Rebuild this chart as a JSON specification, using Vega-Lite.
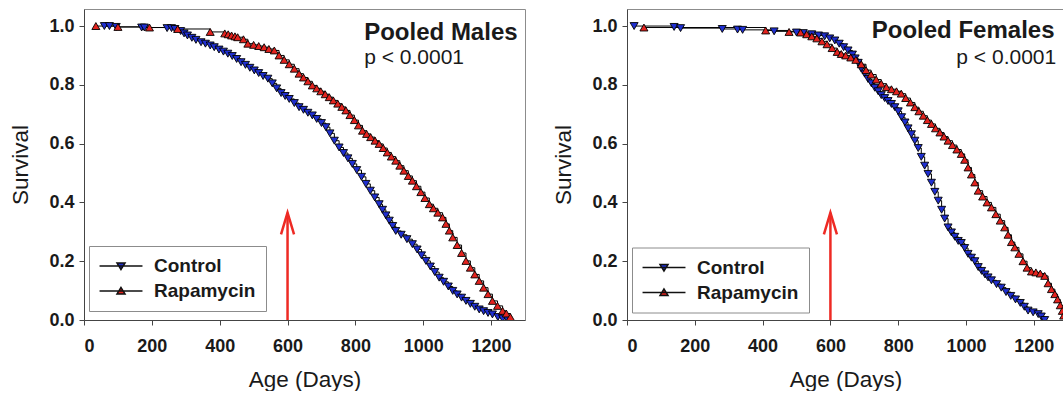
{
  "$schema": "https://vega.github.io/schema/vega-lite/v6.json",
  "background": "white",
  "padding": {"left": 9, "top": 8, "right": 0, "bottom": 0},
  "spacing": 26,
  "config": {
    "font": "Liberation Sans",
    "view": {"stroke": "#8c8c8c", "strokeWidth": 1},
    "axis": {
      "grid": false,
      "domainColor": "#444444",
      "tickColor": "#444444",
      "tickSize": 5,
      "labelFont": "Liberation Sans",
      "labelFontWeight": "bold",
      "labelFontSize": 18,
      "labelColor": "#1a1a1a",
      "titleFont": "Liberation Sans",
      "titleFontWeight": "normal",
      "titleFontSize": 22.5,
      "titleColor": "#1a1a1a"
    },
    "axisX": {"labelPadding": 12, "titlePadding": 13},
    "axisY": {"labelPadding": 5, "titlePadding": 16},
    "legend": {
      "title": null, "orient": "none", "direction": "vertical",
      "padding": 10, "strokeColor": "#8c8c8c", "fillColor": "white", "cornerRadius": 0,
      "labelFont": "Liberation Sans", "labelFontSize": 19, "labelFontWeight": "bold", "labelColor": "#1a1a1a",
      "symbolSize": 324, "symbolStrokeColor": "#111111", "symbolStrokeWidth": 1.5, "labelOffset": 35, "rowPadding": 5
    }
  },
  "datasets": {
    "males": [
      {"group": "Control", "day": 60, "s": 1.0},
      {"group": "Control", "day": 75, "s": 1.0},
      {"group": "Control", "day": 95, "s": 0.997},
      {"group": "Control", "day": 170, "s": 0.995},
      {"group": "Control", "day": 178, "s": 0.995},
      {"group": "Control", "day": 245, "s": 0.993},
      {"group": "Control", "day": 258, "s": 0.993},
      {"group": "Control", "day": 268, "s": 0.99},
      {"group": "Control", "day": 285, "s": 0.983},
      {"group": "Control", "day": 295, "s": 0.975},
      {"group": "Control", "day": 305, "s": 0.968},
      {"group": "Control", "day": 318, "s": 0.96},
      {"group": "Control", "day": 330, "s": 0.953},
      {"group": "Control", "day": 345, "s": 0.945},
      {"group": "Control", "day": 358, "s": 0.94},
      {"group": "Control", "day": 372, "s": 0.934},
      {"group": "Control", "day": 384, "s": 0.928},
      {"group": "Control", "day": 398, "s": 0.92},
      {"group": "Control", "day": 411, "s": 0.913},
      {"group": "Control", "day": 424, "s": 0.906},
      {"group": "Control", "day": 437, "s": 0.898},
      {"group": "Control", "day": 450, "s": 0.888},
      {"group": "Control", "day": 463, "s": 0.877},
      {"group": "Control", "day": 476, "s": 0.868},
      {"group": "Control", "day": 489, "s": 0.858},
      {"group": "Control", "day": 502, "s": 0.849},
      {"group": "Control", "day": 515, "s": 0.84},
      {"group": "Control", "day": 528, "s": 0.83},
      {"group": "Control", "day": 542, "s": 0.821},
      {"group": "Control", "day": 555, "s": 0.805},
      {"group": "Control", "day": 568, "s": 0.788},
      {"group": "Control", "day": 581, "s": 0.772},
      {"group": "Control", "day": 593, "s": 0.762},
      {"group": "Control", "day": 605, "s": 0.752},
      {"group": "Control", "day": 620, "s": 0.738},
      {"group": "Control", "day": 634, "s": 0.724},
      {"group": "Control", "day": 647, "s": 0.715},
      {"group": "Control", "day": 660, "s": 0.705},
      {"group": "Control", "day": 673, "s": 0.696},
      {"group": "Control", "day": 686, "s": 0.684},
      {"group": "Control", "day": 700, "s": 0.67},
      {"group": "Control", "day": 713, "s": 0.656},
      {"group": "Control", "day": 725, "s": 0.635},
      {"group": "Control", "day": 738, "s": 0.61},
      {"group": "Control", "day": 752, "s": 0.587},
      {"group": "Control", "day": 765, "s": 0.568},
      {"group": "Control", "day": 778, "s": 0.55},
      {"group": "Control", "day": 791, "s": 0.531},
      {"group": "Control", "day": 804, "s": 0.51},
      {"group": "Control", "day": 818, "s": 0.487},
      {"group": "Control", "day": 831, "s": 0.463},
      {"group": "Control", "day": 844, "s": 0.44},
      {"group": "Control", "day": 857, "s": 0.417},
      {"group": "Control", "day": 870, "s": 0.394},
      {"group": "Control", "day": 880, "s": 0.375},
      {"group": "Control", "day": 890, "s": 0.356},
      {"group": "Control", "day": 900, "s": 0.338},
      {"group": "Control", "day": 910, "s": 0.32},
      {"group": "Control", "day": 919, "s": 0.303},
      {"group": "Control", "day": 935, "s": 0.29},
      {"group": "Control", "day": 952, "s": 0.275},
      {"group": "Control", "day": 968, "s": 0.258},
      {"group": "Control", "day": 982, "s": 0.24},
      {"group": "Control", "day": 995, "s": 0.22},
      {"group": "Control", "day": 1008, "s": 0.201},
      {"group": "Control", "day": 1021, "s": 0.182},
      {"group": "Control", "day": 1034, "s": 0.163},
      {"group": "Control", "day": 1047, "s": 0.144},
      {"group": "Control", "day": 1060, "s": 0.13},
      {"group": "Control", "day": 1074, "s": 0.114},
      {"group": "Control", "day": 1087, "s": 0.099},
      {"group": "Control", "day": 1100, "s": 0.087},
      {"group": "Control", "day": 1113, "s": 0.076},
      {"group": "Control", "day": 1126, "s": 0.065},
      {"group": "Control", "day": 1139, "s": 0.055},
      {"group": "Control", "day": 1152, "s": 0.045},
      {"group": "Control", "day": 1165, "s": 0.036},
      {"group": "Control", "day": 1178, "s": 0.03},
      {"group": "Control", "day": 1191, "s": 0.024},
      {"group": "Control", "day": 1204, "s": 0.019},
      {"group": "Control", "day": 1220, "s": 0.01},
      {"group": "Control", "day": 1234, "s": 0.005},
      {"group": "Control", "day": 1249, "s": 0.0},
      {"group": "Rapamycin", "day": 35, "s": 1.0},
      {"group": "Rapamycin", "day": 100, "s": 0.997},
      {"group": "Rapamycin", "day": 193, "s": 0.995},
      {"group": "Rapamycin", "day": 276, "s": 0.99},
      {"group": "Rapamycin", "day": 372, "s": 0.98},
      {"group": "Rapamycin", "day": 415, "s": 0.975},
      {"group": "Rapamycin", "day": 425, "s": 0.972},
      {"group": "Rapamycin", "day": 435, "s": 0.968},
      {"group": "Rapamycin", "day": 445, "s": 0.965},
      {"group": "Rapamycin", "day": 453, "s": 0.962},
      {"group": "Rapamycin", "day": 470, "s": 0.955},
      {"group": "Rapamycin", "day": 483, "s": 0.94},
      {"group": "Rapamycin", "day": 500, "s": 0.936},
      {"group": "Rapamycin", "day": 515, "s": 0.932},
      {"group": "Rapamycin", "day": 531, "s": 0.928},
      {"group": "Rapamycin", "day": 545, "s": 0.922},
      {"group": "Rapamycin", "day": 561, "s": 0.917},
      {"group": "Rapamycin", "day": 575, "s": 0.9},
      {"group": "Rapamycin", "day": 590, "s": 0.885},
      {"group": "Rapamycin", "day": 605, "s": 0.87},
      {"group": "Rapamycin", "day": 620, "s": 0.855},
      {"group": "Rapamycin", "day": 634, "s": 0.838},
      {"group": "Rapamycin", "day": 647, "s": 0.825},
      {"group": "Rapamycin", "day": 660, "s": 0.812},
      {"group": "Rapamycin", "day": 673, "s": 0.798},
      {"group": "Rapamycin", "day": 686, "s": 0.788},
      {"group": "Rapamycin", "day": 698, "s": 0.778},
      {"group": "Rapamycin", "day": 711, "s": 0.768},
      {"group": "Rapamycin", "day": 723, "s": 0.758},
      {"group": "Rapamycin", "day": 735, "s": 0.747},
      {"group": "Rapamycin", "day": 748, "s": 0.736},
      {"group": "Rapamycin", "day": 760, "s": 0.725},
      {"group": "Rapamycin", "day": 772, "s": 0.713},
      {"group": "Rapamycin", "day": 784, "s": 0.697},
      {"group": "Rapamycin", "day": 797, "s": 0.68},
      {"group": "Rapamycin", "day": 809, "s": 0.662},
      {"group": "Rapamycin", "day": 821, "s": 0.644},
      {"group": "Rapamycin", "day": 833, "s": 0.633},
      {"group": "Rapamycin", "day": 845, "s": 0.622},
      {"group": "Rapamycin", "day": 858, "s": 0.61},
      {"group": "Rapamycin", "day": 870, "s": 0.599},
      {"group": "Rapamycin", "day": 882, "s": 0.585},
      {"group": "Rapamycin", "day": 894, "s": 0.57},
      {"group": "Rapamycin", "day": 906, "s": 0.556},
      {"group": "Rapamycin", "day": 919, "s": 0.542},
      {"group": "Rapamycin", "day": 931, "s": 0.525},
      {"group": "Rapamycin", "day": 943, "s": 0.508},
      {"group": "Rapamycin", "day": 956, "s": 0.49},
      {"group": "Rapamycin", "day": 968, "s": 0.474},
      {"group": "Rapamycin", "day": 980, "s": 0.455},
      {"group": "Rapamycin", "day": 993, "s": 0.435},
      {"group": "Rapamycin", "day": 1005, "s": 0.415},
      {"group": "Rapamycin", "day": 1018, "s": 0.394},
      {"group": "Rapamycin", "day": 1030, "s": 0.38},
      {"group": "Rapamycin", "day": 1043, "s": 0.365},
      {"group": "Rapamycin", "day": 1057, "s": 0.349},
      {"group": "Rapamycin", "day": 1067, "s": 0.327},
      {"group": "Rapamycin", "day": 1077, "s": 0.304},
      {"group": "Rapamycin", "day": 1087, "s": 0.281},
      {"group": "Rapamycin", "day": 1100, "s": 0.255},
      {"group": "Rapamycin", "day": 1113, "s": 0.228},
      {"group": "Rapamycin", "day": 1126, "s": 0.201},
      {"group": "Rapamycin", "day": 1139, "s": 0.178},
      {"group": "Rapamycin", "day": 1152, "s": 0.155},
      {"group": "Rapamycin", "day": 1165, "s": 0.133},
      {"group": "Rapamycin", "day": 1178, "s": 0.11},
      {"group": "Rapamycin", "day": 1191, "s": 0.088},
      {"group": "Rapamycin", "day": 1204, "s": 0.065},
      {"group": "Rapamycin", "day": 1219, "s": 0.048},
      {"group": "Rapamycin", "day": 1234, "s": 0.031},
      {"group": "Rapamycin", "day": 1245, "s": 0.022},
      {"group": "Rapamycin", "day": 1257, "s": 0.01}
    ],
    "females": [
      {"group": "Control", "day": 21, "s": 1.0},
      {"group": "Control", "day": 139, "s": 0.997},
      {"group": "Control", "day": 158, "s": 0.993},
      {"group": "Control", "day": 281, "s": 0.99},
      {"group": "Control", "day": 326, "s": 0.988},
      {"group": "Control", "day": 341, "s": 0.987},
      {"group": "Control", "day": 434, "s": 0.982},
      {"group": "Control", "day": 500, "s": 0.978},
      {"group": "Control", "day": 520, "s": 0.976},
      {"group": "Control", "day": 545, "s": 0.972},
      {"group": "Control", "day": 565, "s": 0.968},
      {"group": "Control", "day": 583, "s": 0.965},
      {"group": "Control", "day": 598, "s": 0.958},
      {"group": "Control", "day": 613, "s": 0.951},
      {"group": "Control", "day": 626, "s": 0.94},
      {"group": "Control", "day": 639, "s": 0.928},
      {"group": "Control", "day": 652, "s": 0.917},
      {"group": "Control", "day": 665, "s": 0.903},
      {"group": "Control", "day": 673, "s": 0.89},
      {"group": "Control", "day": 682, "s": 0.875},
      {"group": "Control", "day": 691, "s": 0.855},
      {"group": "Control", "day": 701, "s": 0.838},
      {"group": "Control", "day": 711, "s": 0.82},
      {"group": "Control", "day": 721, "s": 0.805},
      {"group": "Control", "day": 731, "s": 0.79},
      {"group": "Control", "day": 741, "s": 0.778},
      {"group": "Control", "day": 750, "s": 0.765},
      {"group": "Control", "day": 760, "s": 0.755},
      {"group": "Control", "day": 770, "s": 0.745},
      {"group": "Control", "day": 780, "s": 0.735},
      {"group": "Control", "day": 790, "s": 0.724},
      {"group": "Control", "day": 800, "s": 0.71},
      {"group": "Control", "day": 810, "s": 0.69},
      {"group": "Control", "day": 820, "s": 0.672},
      {"group": "Control", "day": 829, "s": 0.652},
      {"group": "Control", "day": 839, "s": 0.632},
      {"group": "Control", "day": 849, "s": 0.61},
      {"group": "Control", "day": 859, "s": 0.585},
      {"group": "Control", "day": 868, "s": 0.555},
      {"group": "Control", "day": 878, "s": 0.525},
      {"group": "Control", "day": 888, "s": 0.497},
      {"group": "Control", "day": 898, "s": 0.467},
      {"group": "Control", "day": 908, "s": 0.436},
      {"group": "Control", "day": 918, "s": 0.406},
      {"group": "Control", "day": 928, "s": 0.375},
      {"group": "Control", "day": 937, "s": 0.345},
      {"group": "Control", "day": 947, "s": 0.315},
      {"group": "Control", "day": 957, "s": 0.298},
      {"group": "Control", "day": 967, "s": 0.283},
      {"group": "Control", "day": 977, "s": 0.269},
      {"group": "Control", "day": 986, "s": 0.262},
      {"group": "Control", "day": 996, "s": 0.245},
      {"group": "Control", "day": 1006, "s": 0.225},
      {"group": "Control", "day": 1016, "s": 0.212},
      {"group": "Control", "day": 1026, "s": 0.2},
      {"group": "Control", "day": 1036, "s": 0.18},
      {"group": "Control", "day": 1046, "s": 0.167},
      {"group": "Control", "day": 1056, "s": 0.155},
      {"group": "Control", "day": 1065, "s": 0.145},
      {"group": "Control", "day": 1075, "s": 0.135},
      {"group": "Control", "day": 1090, "s": 0.122},
      {"group": "Control", "day": 1104, "s": 0.11},
      {"group": "Control", "day": 1118, "s": 0.095},
      {"group": "Control", "day": 1132, "s": 0.082},
      {"group": "Control", "day": 1146, "s": 0.07},
      {"group": "Control", "day": 1160, "s": 0.058},
      {"group": "Control", "day": 1172, "s": 0.045},
      {"group": "Control", "day": 1183, "s": 0.032},
      {"group": "Control", "day": 1198, "s": 0.026},
      {"group": "Control", "day": 1213, "s": 0.02},
      {"group": "Control", "day": 1222, "s": 0.012},
      {"group": "Control", "day": 1232, "s": 0.0},
      {"group": "Rapamycin", "day": 50, "s": 0.995},
      {"group": "Rapamycin", "day": 409, "s": 0.985},
      {"group": "Rapamycin", "day": 478, "s": 0.98},
      {"group": "Rapamycin", "day": 512, "s": 0.978},
      {"group": "Rapamycin", "day": 530, "s": 0.972},
      {"group": "Rapamycin", "day": 545, "s": 0.965},
      {"group": "Rapamycin", "day": 560, "s": 0.958},
      {"group": "Rapamycin", "day": 575, "s": 0.948},
      {"group": "Rapamycin", "day": 590, "s": 0.938},
      {"group": "Rapamycin", "day": 605, "s": 0.925},
      {"group": "Rapamycin", "day": 620, "s": 0.912},
      {"group": "Rapamycin", "day": 632, "s": 0.905},
      {"group": "Rapamycin", "day": 645, "s": 0.9},
      {"group": "Rapamycin", "day": 660, "s": 0.893},
      {"group": "Rapamycin", "day": 675, "s": 0.885},
      {"group": "Rapamycin", "day": 691, "s": 0.87},
      {"group": "Rapamycin", "day": 705, "s": 0.85},
      {"group": "Rapamycin", "day": 720, "s": 0.835},
      {"group": "Rapamycin", "day": 735, "s": 0.818},
      {"group": "Rapamycin", "day": 750, "s": 0.804},
      {"group": "Rapamycin", "day": 765, "s": 0.792},
      {"group": "Rapamycin", "day": 780, "s": 0.785},
      {"group": "Rapamycin", "day": 795, "s": 0.778},
      {"group": "Rapamycin", "day": 809, "s": 0.77},
      {"group": "Rapamycin", "day": 822, "s": 0.755},
      {"group": "Rapamycin", "day": 836, "s": 0.74},
      {"group": "Rapamycin", "day": 849, "s": 0.724},
      {"group": "Rapamycin", "day": 861, "s": 0.71},
      {"group": "Rapamycin", "day": 874, "s": 0.695},
      {"group": "Rapamycin", "day": 886, "s": 0.68},
      {"group": "Rapamycin", "day": 898, "s": 0.667},
      {"group": "Rapamycin", "day": 910, "s": 0.652},
      {"group": "Rapamycin", "day": 923, "s": 0.638},
      {"group": "Rapamycin", "day": 935, "s": 0.624},
      {"group": "Rapamycin", "day": 947, "s": 0.61},
      {"group": "Rapamycin", "day": 960, "s": 0.595},
      {"group": "Rapamycin", "day": 973, "s": 0.58},
      {"group": "Rapamycin", "day": 986, "s": 0.565},
      {"group": "Rapamycin", "day": 996, "s": 0.545},
      {"group": "Rapamycin", "day": 1006, "s": 0.519},
      {"group": "Rapamycin", "day": 1016, "s": 0.495},
      {"group": "Rapamycin", "day": 1026, "s": 0.468},
      {"group": "Rapamycin", "day": 1036, "s": 0.44},
      {"group": "Rapamycin", "day": 1049, "s": 0.42},
      {"group": "Rapamycin", "day": 1062, "s": 0.4},
      {"group": "Rapamycin", "day": 1075, "s": 0.383},
      {"group": "Rapamycin", "day": 1088, "s": 0.36},
      {"group": "Rapamycin", "day": 1101, "s": 0.338},
      {"group": "Rapamycin", "day": 1114, "s": 0.315},
      {"group": "Rapamycin", "day": 1124, "s": 0.29},
      {"group": "Rapamycin", "day": 1134, "s": 0.265},
      {"group": "Rapamycin", "day": 1144, "s": 0.247},
      {"group": "Rapamycin", "day": 1156, "s": 0.225},
      {"group": "Rapamycin", "day": 1168, "s": 0.2},
      {"group": "Rapamycin", "day": 1180, "s": 0.178},
      {"group": "Rapamycin", "day": 1193, "s": 0.165},
      {"group": "Rapamycin", "day": 1206, "s": 0.162},
      {"group": "Rapamycin", "day": 1219, "s": 0.158},
      {"group": "Rapamycin", "day": 1232, "s": 0.15},
      {"group": "Rapamycin", "day": 1242, "s": 0.125},
      {"group": "Rapamycin", "day": 1252, "s": 0.105},
      {"group": "Rapamycin", "day": 1262, "s": 0.088},
      {"group": "Rapamycin", "day": 1270, "s": 0.07},
      {"group": "Rapamycin", "day": 1278, "s": 0.05},
      {"group": "Rapamycin", "day": 1284, "s": 0.031},
      {"group": "Rapamycin", "day": 1288, "s": 0.015}
    ]
  },
  "resolve": {"scale": {"fill": "independent"}, "legend": {"fill": "independent"}},
  "hconcat": [
    {
      "width": 441,
      "height": 311,
      "data": {"name": "males"},
      "layer": [
        {
          "mark": {"type": "line", "interpolate": "step-after", "color": "black", "strokeWidth": 1, "clip": true},
          "encoding": {
            "x": {"field": "day", "type": "quantitative", "title": "Age (Days)", "scale": {"domain": [0, 1300], "nice": false}, "axis": {"values": [0, 200, 400, 600, 800, 1000, 1200], "format": "d"}},
            "y": {"field": "s", "type": "quantitative", "title": "Survival", "scale": {"domain": [0, 1.058], "nice": false}, "axis": {"values": [0, 0.2, 0.4, 0.6, 0.8, 1.0], "format": ".1f"}},
            "detail": {"field": "group"}
          }
        },
        {
          "transform": [{"filter": "datum.group === 'Control'"}],
          "mark": {"type": "point", "shape": "triangle-down", "filled": true, "size": 64, "stroke": "black", "strokeWidth": 0.9, "opacity": 1, "clip": true},
          "encoding": {
            "x": {"field": "day", "type": "quantitative", "title": "Age (Days)"},
            "y": {"field": "s", "type": "quantitative", "title": "Survival"},
            "fill": {
              "field": "group",
              "scale": {"domain": ["Control", "Rapamycin"], "range": ["#1f2fd0", "#e3231e"]},
              "legend": {
                "legendX": 5, "legendY": 237,
                "symbolType": {"expr": "datum.value === 'Control' ? 'M-1.05,0L3.72,0M0.89,-0.33L1.78,-0.33L1.33,0.39Z' : 'M-1.05,0L3.72,0M0.89,0.33L1.78,0.33L1.33,-0.39Z'"}
              }
            }
          }
        },
        {
          "transform": [{"filter": "datum.group === 'Rapamycin'"}],
          "mark": {"type": "point", "shape": "triangle-up", "filled": true, "size": 64, "stroke": "black", "strokeWidth": 0.9, "opacity": 1, "clip": true},
          "encoding": {
            "x": {"field": "day", "type": "quantitative", "title": "Age (Days)"},
            "y": {"field": "s", "type": "quantitative", "title": "Survival"},
            "fill": {
              "field": "group",
              "scale": {"domain": ["Control", "Rapamycin"], "range": ["#1f2fd0", "#e3231e"]},
              "legend": {
                "legendX": 5, "legendY": 237,
                "symbolType": {"expr": "datum.value === 'Control' ? 'M-1.05,0L3.72,0M0.89,-0.33L1.78,-0.33L1.33,0.39Z' : 'M-1.05,0L3.72,0M0.89,0.33L1.78,0.33L1.33,-0.39Z'"}
              }
            }
          }
        },
        {
          "data": {"values": [{}]},
          "mark": {"type": "rule", "color": "#ee2a24", "strokeWidth": 2.5},
          "encoding": {
            "x": {"datum": 600, "type": "quantitative"},
            "y": {"datum": 0, "type": "quantitative"},
            "y2": {"datum": 0.365}
          }
        },
        {
          "data": {"values": [{}]},
          "mark": {"type": "point", "shape": "M-0.3,1L0,0L0.3,1", "size": 1884, "filled": false, "stroke": "#ee2a24", "strokeWidth": 2.5, "opacity": 1},
          "encoding": {
            "x": {"datum": 600, "type": "quantitative"},
            "y": {"datum": 0.365, "type": "quantitative"}
          }
        },
        {
          "data": {"values": [{}]},
          "mark": {"type": "text", "text": "Pooled Males", "align": "left", "baseline": "alphabetic", "font": "Liberation Sans", "fontSize": 24, "fontWeight": "bold", "color": "#1a1a1a"},
          "encoding": {
            "x": {"datum": 826, "type": "quantitative"},
            "y": {"datum": 0.9525, "type": "quantitative"}
          }
        },
        {
          "data": {"values": [{}]},
          "mark": {"type": "text", "text": "p < 0.0001", "align": "left", "baseline": "alphabetic", "font": "Liberation Sans", "fontSize": 21, "fontWeight": "normal", "color": "#1a1a1a"},
          "encoding": {
            "x": {"datum": 826, "type": "quantitative"},
            "y": {"datum": 0.87, "type": "quantitative"}
          }
        }
      ]
    },
    {
      "width": 437,
      "height": 311,
      "data": {"name": "females"},
      "layer": [
        {
          "mark": {"type": "line", "interpolate": "step-after", "color": "black", "strokeWidth": 1, "clip": true},
          "encoding": {
            "x": {"field": "day", "type": "quantitative", "title": "Age (Days)", "scale": {"domain": [0, 1289], "nice": false}, "axis": {"values": [0, 200, 400, 600, 800, 1000, 1200], "format": "d"}},
            "y": {"field": "s", "type": "quantitative", "title": "Survival", "scale": {"domain": [0, 1.058], "nice": false}, "axis": {"values": [0, 0.2, 0.4, 0.6, 0.8, 1.0], "format": ".1f"}},
            "detail": {"field": "group"}
          }
        },
        {
          "transform": [{"filter": "datum.group === 'Control'"}],
          "mark": {"type": "point", "shape": "triangle-down", "filled": true, "size": 64, "stroke": "black", "strokeWidth": 0.9, "opacity": 1, "clip": true},
          "encoding": {
            "x": {"field": "day", "type": "quantitative", "title": "Age (Days)"},
            "y": {"field": "s", "type": "quantitative", "title": "Survival"},
            "fill": {
              "field": "group",
              "scale": {"domain": ["Control", "Rapamycin"], "range": ["#1f2fd0", "#e3231e"]},
              "legend": {
                "legendX": 5, "legendY": 238.5,
                "symbolType": {"expr": "datum.value === 'Control' ? 'M-1.05,0L3.72,0M0.89,-0.33L1.78,-0.33L1.33,0.39Z' : 'M-1.05,0L3.72,0M0.89,0.33L1.78,0.33L1.33,-0.39Z'"}
              }
            }
          }
        },
        {
          "transform": [{"filter": "datum.group === 'Rapamycin'"}],
          "mark": {"type": "point", "shape": "triangle-up", "filled": true, "size": 64, "stroke": "black", "strokeWidth": 0.9, "opacity": 1, "clip": true},
          "encoding": {
            "x": {"field": "day", "type": "quantitative", "title": "Age (Days)"},
            "y": {"field": "s", "type": "quantitative", "title": "Survival"},
            "fill": {
              "field": "group",
              "scale": {"domain": ["Control", "Rapamycin"], "range": ["#1f2fd0", "#e3231e"]},
              "legend": {
                "legendX": 5, "legendY": 238.5,
                "symbolType": {"expr": "datum.value === 'Control' ? 'M-1.05,0L3.72,0M0.89,-0.33L1.78,-0.33L1.33,0.39Z' : 'M-1.05,0L3.72,0M0.89,0.33L1.78,0.33L1.33,-0.39Z'"}
              }
            }
          }
        },
        {
          "data": {"values": [{}]},
          "mark": {"type": "rule", "color": "#ee2a24", "strokeWidth": 2.5},
          "encoding": {
            "x": {"datum": 600, "type": "quantitative"},
            "y": {"datum": 0, "type": "quantitative"},
            "y2": {"datum": 0.365}
          }
        },
        {
          "data": {"values": [{}]},
          "mark": {"type": "point", "shape": "M-0.3,1L0,0L0.3,1", "size": 1884, "filled": false, "stroke": "#ee2a24", "strokeWidth": 2.5, "opacity": 1},
          "encoding": {
            "x": {"datum": 600, "type": "quantitative"},
            "y": {"datum": 0.365, "type": "quantitative"}
          }
        },
        {
          "data": {"values": [{}]},
          "mark": {"type": "text", "text": "Pooled Females", "align": "right", "baseline": "alphabetic", "font": "Liberation Sans", "fontSize": 24, "fontWeight": "bold", "color": "#1a1a1a"},
          "encoding": {
            "x": {"datum": 1261, "type": "quantitative"},
            "y": {"datum": 0.961, "type": "quantitative"}
          }
        },
        {
          "data": {"values": [{}]},
          "mark": {"type": "text", "text": "p < 0.0001", "align": "right", "baseline": "alphabetic", "font": "Liberation Sans", "fontSize": 21, "fontWeight": "normal", "color": "#1a1a1a"},
          "encoding": {
            "x": {"datum": 1266, "type": "quantitative"},
            "y": {"datum": 0.87, "type": "quantitative"}
          }
        }
      ]
    }
  ]
}
